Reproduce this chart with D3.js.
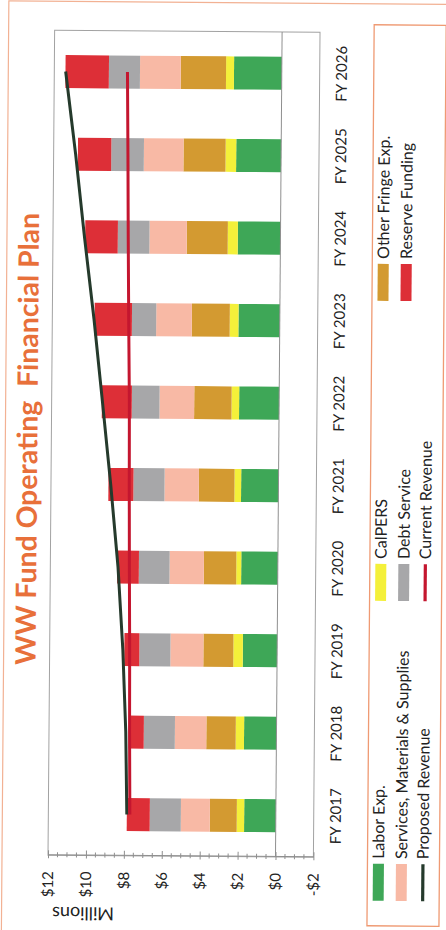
<!DOCTYPE html>
<html>
<head>
<meta charset="utf-8">
<script src="https://cdn.jsdelivr.net/npm/d3@7"></script>
<style>
  html, body { margin: 0; padding: 0; background: #ffffff; }
  svg { display: block; }
</style>
</head>
<body>
<svg id="chart" width="446" height="930"></svg>
<script>
// ---- Data (millions of dollars) ----
const years = ["FY 2017", "FY 2018", "FY 2019", "FY 2020", "FY 2021",
               "FY 2022", "FY 2023", "FY 2024", "FY 2025", "FY 2026"];
const laborExp        = [1.67, 1.71, 1.81, 1.93, 1.97, 2.11, 2.18, 2.25, 2.37, 2.52];
const calPers         = [0.39, 0.44, 0.50, 0.26, 0.35, 0.40, 0.46, 0.53, 0.56, 0.42];
const otherFringe     = [1.42, 1.55, 1.58, 1.71, 1.88, 1.97, 2.00, 2.16, 2.22, 2.39];
const servicesSupplies= [1.53, 1.66, 1.74, 1.81, 1.81, 1.83, 1.88, 1.97, 2.09, 2.15];
const debtService     = [1.64, 1.64, 1.64, 1.62, 1.64, 1.46, 1.28, 1.67, 1.72, 1.64];
const reserveFunding  = [1.21, 0.79, 0.79, 1.14, 1.32, 1.58, 1.97, 1.72, 1.76, 2.29];
const proposedRevenue = [7.86, 7.95, 8.14, 8.43, 8.85, 9.32, 9.80, 10.34, 10.84, 11.40];
const currentRevenue  = [7.70, 7.75, 7.78, 7.83, 7.87, 7.90, 7.97, 8.03, 8.08, 8.14];
const valueTicks = [12, 10, 8, 6, 4, 2, 0, -2];

const titleText = "WW Fund Operating\u00A0\u00A0Financial Plan";
const axisTitle = "Millions";

const barSeries = [
  { key: "labor",    name: "Labor Exp.",                     values: laborExp,         color: "#3ea757" },
  { key: "calpers",  name: "CalPERS",                        values: calPers,          color: "#f4f03a" },
  { key: "fringe",   name: "Other Fringe Exp.",              values: otherFringe,      color: "#d39a31" },
  { key: "services", name: "Services, Materials & Supplies", values: servicesSupplies, color: "#f8b9a5" },
  { key: "debt",     name: "Debt Service",                   values: debtService,      color: "#a7a7a9" },
  { key: "reserve",  name: "Reserve Funding",                values: reserveFunding,   color: "#dd2f37" }
];
const lineSeries = [
  { key: "proposed", name: "Proposed Revenue", values: proposedRevenue, color: "#253a2c" },
  { key: "current",  name: "Current Revenue",  values: currentRevenue,  color: "#c4162f" }
];

const FONT = "Lato, 'Open Sans', sans-serif";
const ORANGE = "#e8703a";

// ---- Layout in landscape chart space (930 x 446), turned onto the page ----
const plot = { left: 73, right: 898, top: 48, bottom: 313.4 };

const svg = d3.select("#chart");
const g = svg.append("g")
  .attr("transform", "translate(0,930) rotate(-90) rotate(0.46,73,276)");

// outer chart frame
g.append("rect")
  .attr("x", -6).attr("y", 2).attr("width", 933).attr("height", 452)
  .attr("fill", "#ffffff").attr("stroke", "#f2b193").attr("stroke-width", 1.2);

const x = d3.scaleBand().domain(years).range([plot.left, plot.right])
  .paddingInner(0.6).paddingOuter(0.3);
const y = d3.scaleLinear().domain([-2, 12]).range([plot.bottom, plot.top]);

// plot area border
g.append("rect")
  .attr("x", plot.left).attr("y", plot.top)
  .attr("width", plot.right - plot.left).attr("height", plot.bottom - plot.top)
  .attr("fill", "#ffffff").attr("stroke", "#a2a2a2").attr("stroke-width", 1);

// stacked bars
const table = years.map((yr, i) => {
  const row = { year: yr };
  barSeries.forEach(s => { row[s.key] = s.values[i]; });
  return row;
});
const stacked = d3.stack().keys(barSeries.map(s => s.key))(table);

g.append("g").selectAll("g").data(stacked).join("g")
  .attr("fill", (d, i) => barSeries[i].color)
  .selectAll("rect").data(d => d).join("rect")
    .attr("x", d => x(d.data.year))
    .attr("width", x.bandwidth())
    .attr("y", d => y(d[1]))
    .attr("height", d => y(d[0]) - y(d[1]));

// zero line (category axis line)
g.append("line")
  .attr("x1", plot.left).attr("x2", plot.right)
  .attr("y1", y(0)).attr("y2", y(0))
  .attr("stroke", "#8f8f8f").attr("stroke-width", 1);

// revenue lines
const line = d3.line()
  .x((d, i) => x(years[i]) + x.bandwidth() / 2)
  .y(d => y(d));
lineSeries.forEach(s => {
  g.append("path")
    .attr("d", line(s.values))
    .attr("fill", "none")
    .attr("stroke", s.color)
    .attr("stroke-width", 3)
    .attr("stroke-linejoin", "round");
});

// value axis with minor ticks
const yAxis = d3.axisLeft(y)
  .tickValues(valueTicks)
  .tickSizeInner(3).tickSizeOuter(0).tickPadding(13)
  .tickFormat(d => (d < 0 ? "-$" : "$") + Math.abs(d));
const yAxisG = g.append("g").attr("transform", `translate(${plot.left},0)`).call(yAxis);
yAxisG.select(".domain").attr("stroke", "#8f8f8f");
yAxisG.selectAll(".tick line").attr("stroke", "#8f8f8f").attr("x2", 5).attr("x1", -3);
yAxisG.selectAll(".tick text")
  .attr("font-family", FONT).attr("font-size", 15).attr("fill", "#222");

const minor = d3.range(-2, 12.01, 0.5).filter(v => !valueTicks.includes(v));
g.append("g").selectAll("line").data(minor).join("line")
  .attr("x1", plot.left - 2).attr("x2", plot.left + 3)
  .attr("y1", d => y(d)).attr("y2", d => y(d))
  .attr("stroke", "#8f8f8f").attr("stroke-width", 1);

// category labels
const xAxis = d3.axisBottom(x).tickSize(0).tickPadding(16.5);
const xAxisG = g.append("g").attr("transform", `translate(0,${plot.bottom})`).call(xAxis);
xAxisG.select(".domain").remove();
xAxisG.selectAll(".tick text")
  .attr("font-family", FONT).attr("font-size", 15).attr("fill", "#222");

// axis title
g.append("text")
  .attr("transform", "translate(15,83.5) rotate(-90)")
  .attr("text-anchor", "middle").attr("dy", "0.35em")
  .attr("font-family", FONT).attr("font-size", 18).attr("fill", "#222")
  .text(axisTitle);

// chart title
g.append("text")
  .attr("x", 489).attr("y", 34)
  .attr("text-anchor", "middle")
  .attr("font-family", FONT).attr("font-weight", 700).attr("font-size", 28)
  .attr("fill", ORANGE)
  .attr("textLength", 452).attr("lengthAdjust", "spacingAndGlyphs")
  .text(titleText);

// legend
const legend = g.append("g");
legend.append("rect")
  .attr("x", 5).attr("y", 367.5).attr("width", 901).attr("height", 72)
  .attr("fill", "#ffffff").attr("stroke", "#ef9a73").attr("stroke-width", 1.3);

const legendItems = [
  barSeries[0], barSeries[1], barSeries[2],
  barSeries[3], barSeries[4], barSeries[5],
  lineSeries[0], lineSeries[1]
];
const colU = [30, 330, 630];
const rowV = [378.5, 401.5, 423];
legendItems.forEach((item, i) => {
  const c = i % 3, r = Math.floor(i / 3);
  const u = colU[c], v = rowV[r];
  const isLine = r === 2;
  if (isLine) {
    legend.append("line")
      .attr("x1", u).attr("x2", u + 37).attr("y1", v).attr("y2", v)
      .attr("stroke", item.color).attr("stroke-width", 3.2);
  } else {
    legend.append("rect")
      .attr("x", u).attr("y", v - 5.5).attr("width", 37).attr("height", 11)
      .attr("fill", item.color);
  }
  legend.append("text")
    .attr("x", u + 42).attr("y", v).attr("dy", "0.35em")
    .attr("font-family", FONT).attr("font-size", 16).attr("fill", "#222")
    .text(item.name);
});
</script>
</body>
</html>
